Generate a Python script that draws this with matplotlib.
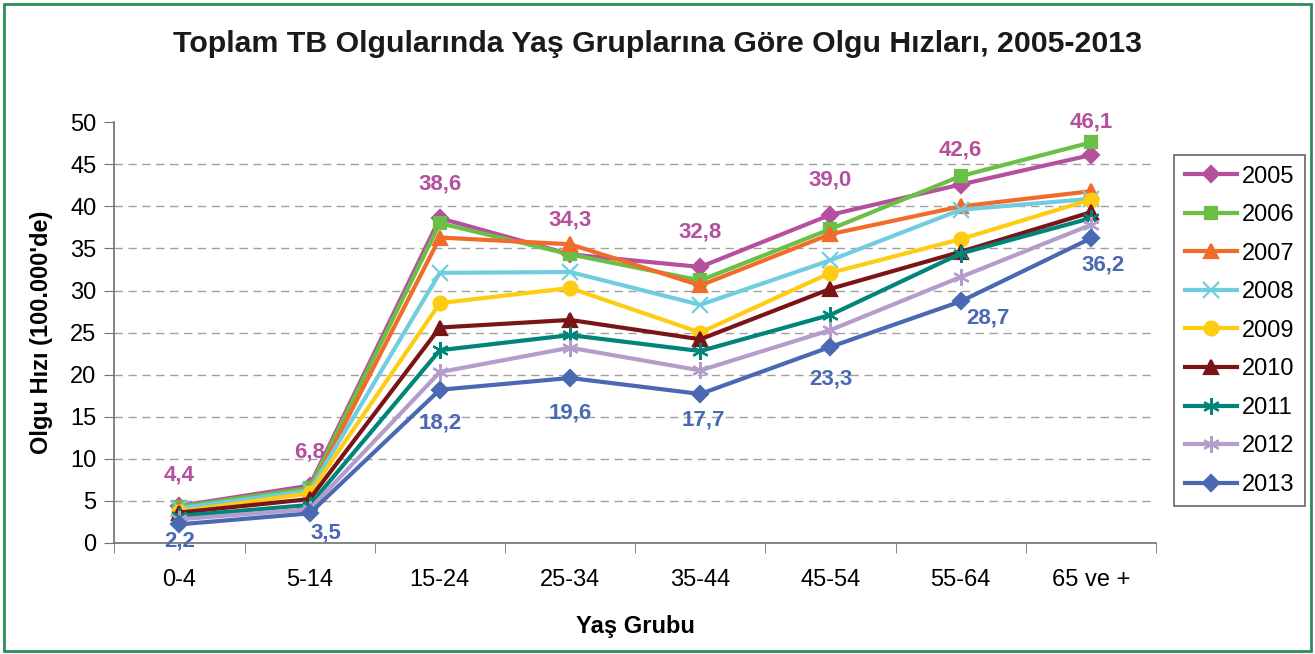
import numpy as np
import matplotlib.pyplot as plt
from matplotlib.patches import Rectangle

plt.rcParams['font.family'] = ['Liberation Sans', 'DejaVu Sans']

# veriler
groups = ['0-4', '5-14', '15-24', '25-34', '35-44', '45-54', '55-64', '65 ve +']
years = ['2005', '2006', '2007', '2008', '2009', '2010', '2011', '2012', '2013']

r2005 = [4.4, 6.8, 38.6, 34.3, 32.8, 39.0, 42.6, 46.1]
r2006 = [4.3, 6.5, 38.0, 34.3, 31.2, 37.3, 43.6, 47.6]
r2007 = [4.0, 6.0, 36.3, 35.5, 30.6, 36.7, 40.0, 41.8]
r2008 = [4.1, 6.2, 32.1, 32.2, 28.3, 33.6, 39.6, 40.9]
r2009 = [3.7, 5.9, 28.5, 30.3, 25.0, 32.1, 36.1, 40.8]
r2010 = [3.6, 5.2, 25.6, 26.5, 24.2, 30.2, 34.6, 39.3]
r2011 = [3.2, 4.5, 22.9, 24.7, 22.8, 27.1, 34.4, 38.6]
r2012 = [2.8, 4.0, 20.3, 23.2, 20.5, 25.3, 31.6, 37.8]
r2013 = [2.2, 3.5, 18.2, 19.6, 17.7, 23.3, 28.7, 36.2]
series = [r2005, r2006, r2007, r2008, r2009, r2010, r2011, r2012, r2013]

colors = ['#b5509f', '#6abf45', '#f26b2a', '#70cde0', '#ffcc14',
          '#7b1416', '#00857a', '#b49ccb', '#4a69b3']
markers = ['D', 's', '^', 'x', 'o', '^', (6, 2, 0), (6, 2, 0), 'D']
msizes = [8, 9, 10, 11, 10, 10, 12, 12, 8]

fig = plt.figure(figsize=(13.15, 6.54), dpi=100)
ax = fig.add_axes([0.087, 0.170, 0.792, 0.643])

x = np.arange(len(groups))
for vals, c, m, ms, yr in zip(series, colors, markers, msizes, years):
    ax.plot(x, vals, color=c, marker=m, markersize=ms, linewidth=3,
            markeredgewidth=1.6, label=yr)

# veri etiketleri (ofsetler nokta cinsinden)
top_off = [(0, 22), (0, 24), (0, 24.5), (0, 24.5), (0, 25), (0, 25), (0, 25), (0, 24)]
bot_off = [(0, -12), (12, -14), (0, -24), (0, -25), (2, -19), (0, -23), (20, -12), (9, -19)]
for i in range(len(groups)):
    ax.annotate(f'{r2005[i]:.1f}'.replace('.', ','), (x[i], r2005[i]),
                xytext=top_off[i], textcoords='offset points', ha='center', va='center',
                fontsize=16, fontweight='bold', color=colors[0])
    ax.annotate(f'{r2013[i]:.1f}'.replace('.', ','), (x[i], r2013[i]),
                xytext=bot_off[i], textcoords='offset points', ha='center', va='center',
                fontsize=16, fontweight='bold', color=colors[-1])

for v in range(5, 50, 5):
    ax.axhline(v, color='#a0a0a0', linestyle=(0, (6, 4)), linewidth=1, zorder=0)

ax.set_xlim(-0.5, len(groups) - 0.5)
ax.set_ylim(0, 50)
ax.set_yticks(range(0, 51, 5))
ax.set_xticks(x)
ax.set_xticklabels(groups)
ax.set_xticks(np.arange(-0.5, len(groups), 1), minor=True)
ax.tick_params(axis='x', which='major', length=0, pad=19, labelsize=17)
ax.tick_params(axis='x', which='minor', length=7, color='#707070', direction='out')
ax.tick_params(axis='y', length=7, color='#707070', labelsize=17, pad=6)
for s in ['top', 'right']:
    ax.spines[s].set_visible(False)
for s in ['left', 'bottom']:
    ax.spines[s].set_color('#707070')
    ax.spines[s].set_linewidth(1.2)

ax.set_xlabel('Yaş Grubu', fontsize=17, fontweight='bold', labelpad=17)
ax.set_ylabel("Olgu Hızı (100.000'de)", fontsize=17, fontweight='bold', labelpad=12)
fig.text(0.5, 0.932, 'Toplam TB Olgularında Yaş Gruplarına Göre Olgu Hızları, 2005-2013',
         ha='center', va='center', fontsize=21.8, fontweight='bold', color='#1a1a1a')

leg = fig.legend(loc='upper left', bbox_to_anchor=(0.893, 0.763), fontsize=17,
                 frameon=True, fancybox=False, edgecolor='#404040',
                 handlelength=2.2, handletextpad=0.2, labelspacing=0.7,
                 borderpad=0.45, borderaxespad=0)
leg.get_frame().set_linewidth(1.2)

fig.patches.append(Rectangle((0.003, 0.005), 0.994, 0.989, transform=fig.transFigure,
                             fill=False, edgecolor='#2e8b57', linewidth=2))

fig.savefig('out.png', dpi=100)
